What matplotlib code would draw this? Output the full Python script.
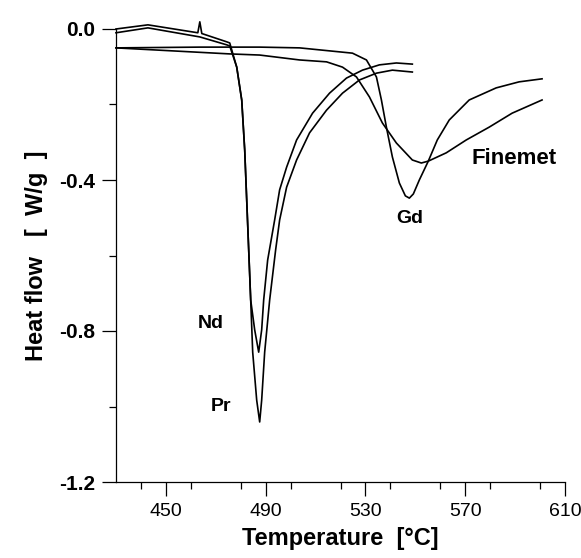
"""
plot.py
-------
DSC traces (heat flow vs. temperature) for the Nd, Pr, Gd and Finemet
ribbons. Writes out.png.
"""

import matplotlib.pyplot as plt
from matplotlib.ticker import MultipleLocator

# -- Data ---------------------------------------------------------------------
nd_temp = [430, 442.8, 463.6, 474.4, 475.6, 478.4, 480.4, 481.6, 482.4, 484.0,
           485.6, 487.2, 488.4, 489.2, 490.8, 493.6, 495.6, 498.4, 502.4,
           508.8, 515.6, 522.4, 528.8, 535.6, 542.4, 548.8]
nd_flow = [-0.010, 0.003, -0.021, -0.042, -0.045, -0.101, -0.188, -0.321,
           -0.453, -0.718, -0.797, -0.856, -0.797, -0.718, -0.612, -0.506,
           -0.426, -0.366, -0.294, -0.223, -0.170, -0.130, -0.109, -0.095,
           -0.090, -0.093]

pr_temp = [430, 442.8, 462.8, 463.6, 464.4, 474.4, 475.6, 478.4, 480.4, 481.6,
           482.4, 484.0, 484.8, 486.4, 487.6, 488.4, 489.6, 491.6, 494.0,
           495.6, 498.4, 502.4, 507.6, 514.4, 520.8, 527.6, 534.4, 540.8, 548.8]
pr_flow = [0.000, 0.011, -0.010, 0.019, -0.012, -0.034, -0.037, -0.101,
           -0.188, -0.321, -0.453, -0.718, -0.856, -0.983, -1.041, -0.983,
           -0.856, -0.718, -0.585, -0.506, -0.419, -0.347, -0.275, -0.215,
           -0.170, -0.135, -0.117, -0.109, -0.114]

gd_temp = [430, 463.6, 487.6, 503.6, 524.8, 530.4, 534.4, 536.4, 538.4, 540.8,
           543.6, 546.0, 547.6, 549.2, 551.6, 555.2, 558.8, 563.6, 571.6,
           582.4, 591.6, 600.8]
gd_flow = [-0.050, -0.048, -0.048, -0.050, -0.064, -0.082, -0.127, -0.188,
           -0.260, -0.339, -0.408, -0.442, -0.448, -0.437, -0.400, -0.350,
           -0.294, -0.241, -0.188, -0.156, -0.140, -0.132]

fm_temp = [430, 475.6, 487.6, 503.6, 514.4, 520.8, 526.4, 531.6, 536.8, 542.4,
           548.8, 552.4, 555.2, 562.4, 570.4, 579.6, 588.8, 600.8]
fm_flow = [-0.050, -0.066, -0.069, -0.082, -0.087, -0.101, -0.127, -0.180,
           -0.249, -0.302, -0.347, -0.355, -0.350, -0.328, -0.294, -0.260,
           -0.223, -0.188]

curve_labels = ["Nd", "Pr", "Gd", "Finemet"]
label_temp = [468.0, 472.0, 547.6, 589.6]
label_flow = [-0.78, -1.00, -0.503, -0.344]

x_ticks = [450, 490, 530, 570, 610]
y_ticks = [0.0, -0.4, -0.8, -1.2]

FONT = "Liberation Sans"


def main():
    plt.rcParams["font.family"] = [FONT, "DejaVu Sans"]

    fig = plt.figure(figsize=(5.81, 5.58), dpi=100)
    ax = fig.add_axes([116 / 581, 76 / 558, 449 / 581, 453 / 558])

    # -- Curves ----------------------------------------------------------------
    for t, h in [(nd_temp, nd_flow), (pr_temp, pr_flow),
                 (gd_temp, gd_flow), (fm_temp, fm_flow)]:
        ax.plot(t, h, color="black", lw=1.2, clip_on=False,
                solid_joinstyle="round")

    sizes = [14, 14, 14, 16]
    for name, tx, hy, fs in zip(curve_labels, label_temp, label_flow, sizes):
        ax.text(tx, hy, name, fontsize=fs, fontweight="bold",
                ha="center", va="center")

    # -- Axes ------------------------------------------------------------------
    ax.set_xlim(430, 610)
    ax.set_ylim(-1.2, 0.0)
    ax.spines["top"].set_visible(False)
    ax.spines["right"].set_visible(False)
    for side in ("left", "bottom"):
        ax.spines[side].set_linewidth(0.9)

    ax.set_xticks(x_ticks)
    ax.set_yticks(y_ticks)
    ax.set_yticklabels([f"{v:.1f}" for v in y_ticks])
    ax.xaxis.set_minor_locator(MultipleLocator(20))
    ax.yaxis.set_minor_locator(MultipleLocator(0.2))
    ax.tick_params(which="major", direction="out", length=10, width=0.9)
    ax.tick_params(which="minor", direction="out", length=5, width=0.9)
    ax.tick_params(axis="x", which="major", labelsize=14, pad=5)
    ax.tick_params(axis="y", which="major", labelsize=15, pad=5)
    for lbl in ax.get_yticklabels():
        lbl.set_fontweight("bold")

    ax.set_xlabel("Temperature  [\u00b0C]", fontsize=17, fontweight="bold",
                  labelpad=5)
    ax.set_ylabel("Heat flow   [  W/g  ]", fontsize=17, fontweight="bold",
                  labelpad=8)

    fig.savefig("out.png", dpi=100)
    plt.close(fig)


if __name__ == "__main__":
    main()
